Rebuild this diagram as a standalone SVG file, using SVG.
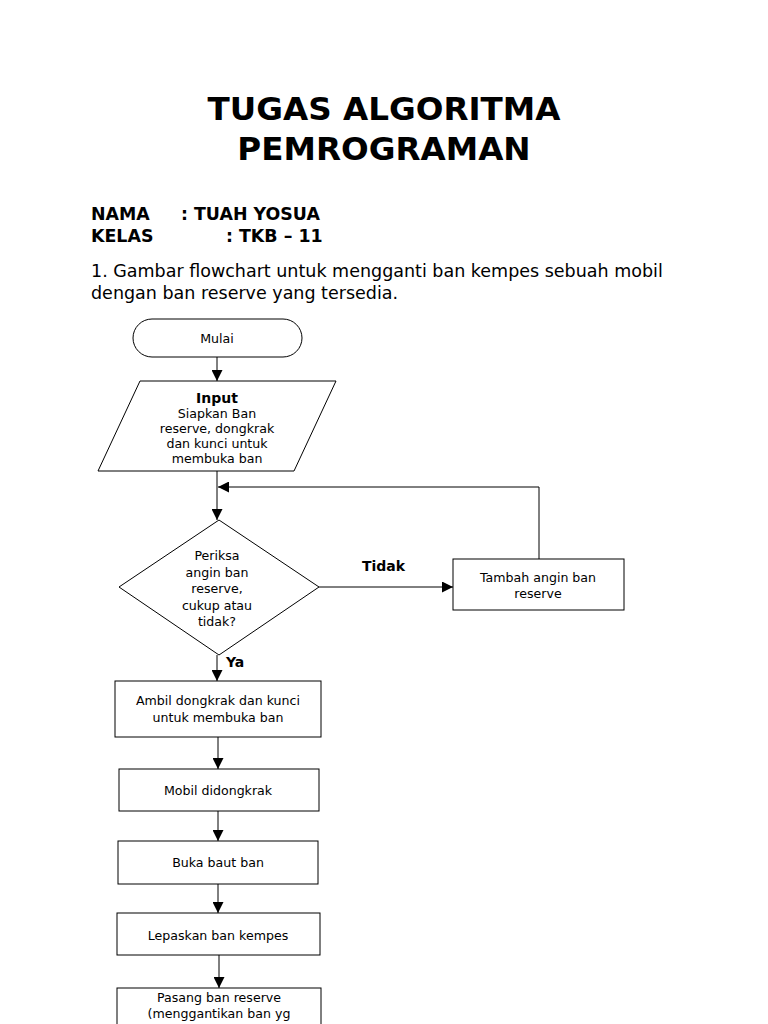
<svg xmlns="http://www.w3.org/2000/svg" width="768" height="1024" viewBox="0 0 768 1024">
<style>
text{font-family:"DejaVu Sans","Liberation Sans",sans-serif;fill:#000}
.t{font-size:32.6px;font-weight:bold;text-anchor:middle}
.h{font-size:17.4px;font-weight:bold}
.p{font-size:17.5px}
.n{font-size:12.6px;text-anchor:middle}
.b{font-size:14px;font-weight:bold}
.s{fill:#fff;stroke:#000;stroke-width:1}
.c{fill:none;stroke:#000;stroke-width:1}
</style>
<defs>
<marker id="a" viewBox="0 0 10 10" refX="10" refY="5" markerWidth="11" markerHeight="11" markerUnits="userSpaceOnUse" orient="auto">
<path d="M0,0 L10,5 L0,10 z" fill="#000"/>
</marker>
</defs>
<rect width="768" height="1024" fill="#fff"/>
<g id="header">
<text class="t" x="384" y="120">TUGAS ALGORITMA</text>
<text class="t" x="384" y="160">PEMROGRAMAN</text>
<text class="h" x="91" y="220">NAMA</text>
<text class="h" x="181" y="220">: TUAH YOSUA</text>
<text class="h" x="91" y="242">KELAS</text>
<text class="h" x="226" y="242">: TKB – 11</text>
<text class="p" x="91" y="277">1. Gambar flowchart untuk mengganti ban kempes sebuah mobil</text>
<text class="p" x="91" y="299">dengan ban reserve yang tersedia.</text>
</g>
<g id="connectors">
<line class="c" x1="217" y1="357" x2="217" y2="381" marker-end="url(#a)"/>
<line class="c" x1="217" y1="471" x2="217" y2="520" marker-end="url(#a)"/>
<polyline class="c" points="539,559 539,487 218,487" marker-end="url(#a)"/>
<line class="c" x1="319" y1="587" x2="453" y2="587" marker-end="url(#a)"/>
<line class="c" x1="217" y1="655" x2="217" y2="681" marker-end="url(#a)"/>
<line class="c" x1="218" y1="737" x2="218" y2="769" marker-end="url(#a)"/>
<line class="c" x1="218" y1="811" x2="218" y2="841" marker-end="url(#a)"/>
<line class="c" x1="218" y1="884" x2="218" y2="913" marker-end="url(#a)"/>
<line class="c" x1="219" y1="955" x2="219" y2="988" marker-end="url(#a)"/>
<text class="b" x="362" y="571">Tidak</text>
<text class="b" x="226" y="667">Ya</text>
</g>
<g id="mulai">
<rect class="s" x="133" y="319" width="169" height="38" rx="19" ry="19"/>
<text class="n" x="217" y="343">Mulai</text>
</g>
<g id="input">
<polygon class="s" points="140,381 336,381 294,471 98,471"/>
<text x="217" y="403" style="font-size:14px;font-weight:bold;text-anchor:middle">Input</text>
<text class="n" x="217" y="418">Siapkan Ban</text>
<text class="n" x="217" y="433">reserve, dongkrak</text>
<text class="n" x="217" y="448">dan kunci untuk</text>
<text class="n" x="217" y="463">membuka ban</text>
</g>
<g id="periksa">
<polygon class="s" points="219,520 319,587 219,655 119,587"/>
<text class="n" x="217" y="560">Periksa</text>
<text class="n" x="217" y="577">angin ban</text>
<text class="n" x="217" y="593">reserve,</text>
<text class="n" x="217" y="610">cukup atau</text>
<text class="n" x="217" y="626">tidak?</text>
</g>
<g id="tambah">
<rect class="s" x="453" y="559" width="171" height="51"/>
<text class="n" x="538" y="582">Tambah angin ban</text>
<text class="n" x="538" y="598">reserve</text>
</g>
<g id="ambil">
<rect class="s" x="115" y="681" width="206" height="56"/>
<text class="n" x="218" y="705">Ambil dongkrak dan kunci</text>
<text class="n" x="218" y="722">untuk membuka ban</text>
</g>
<g id="mobil">
<rect class="s" x="119" y="769" width="200" height="42"/>
<text class="n" x="218" y="795">Mobil didongkrak</text>
</g>
<g id="buka">
<rect class="s" x="118" y="841" width="200" height="43"/>
<text class="n" x="218" y="867">Buka baut ban</text>
</g>
<g id="lepaskan">
<rect class="s" x="117" y="913" width="203" height="42"/>
<text class="n" x="218" y="940">Lepaskan ban kempes</text>
</g>
<g id="pasang">
<rect class="s" x="117" y="988" width="204" height="60"/>
<text class="n" x="219" y="1002">Pasang ban reserve</text>
<text class="n" x="219" y="1018">(menggantikan ban yg</text>
</g>
</svg>
